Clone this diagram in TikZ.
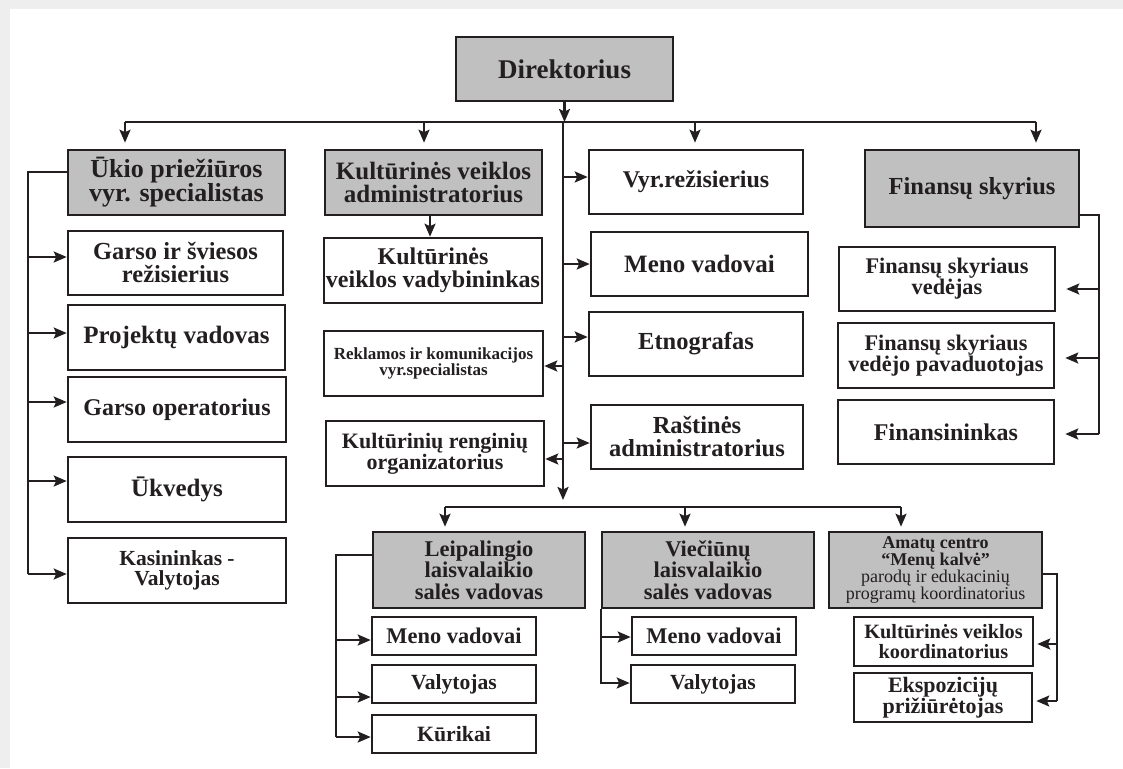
\documentclass[tikz,border=0pt]{standalone}
\usepackage{fontspec}
\setmainfont{Liberation Serif}
\usetikzlibrary{arrows.meta,calc}
\definecolor{ink}{HTML}{231F20}
\definecolor{boxgray}{HTML}{C0C0C0}
\definecolor{margin}{HTML}{EEEEEE}
\newcommand\mkbox[7]{\node[#6, minimum width={#4-#2}, minimum height={#5-#3}] (#1) at ({(#2+#4)/2},{(#3+#5)/2}) {#7};}
\begin{document}
\begin{tikzpicture}[x=1pt,y=-1pt,
  ln/.style={draw=ink,line width=2.2pt},
  arr/.style={ln,-{Stealth[length=13pt,width=11pt,inset=2.5pt]}},
  bxw/.style={draw=ink,line width=2.6pt,fill=white,inner sep=0pt,align=center,text=ink},
  bxg/.style={bxw,fill=boxgray},
  fs/.style 2 args={font=\fontsize{#1}{#2}\selectfont\bfseries}]
\useasboundingbox (0,0) rectangle (1123,768);
\fill[margin] (0,0) rectangle (1123,768);
\fill[white] (10,9) rectangle (1123,768);
% top level
\mkbox{dir}{456}{37}{673}{101}{bxg,fs={27}{27}}{Direktorius}
\mkbox{uk}{68}{150}{285}{215}{bxg,fs={26}{24}}{Ūkio priežiūros\\vyr. specialistas}
\mkbox{kadm}{325}{150}{542}{215}{bxg,fs={25}{23.5}}{Kultūrinės veiklos\\administratorius}
\mkbox{vyr}{589}{150}{803}{214}{bxw,fs={24}{24}}{Vyr.režisierius}
\mkbox{fin}{865}{150}{1079}{227}{bxg,fs={24.5}{24}}{Finansų skyrius}
% left column
\mkbox{gsr}{68}{231}{283}{295}{bxw,fs={24.5}{23}}{Garso ir šviesos\\režisierius}
\mkbox{pv}{68}{305}{285}{370}{bxw,fs={25}{25}}{Projektų vadovas}
\mkbox{go}{68}{377}{286}{442}{bxw,fs={24}{24}}{Garso operatorius}
\mkbox{ukv}{68}{457}{286}{522}{bxw,fs={25}{25}}{Ūkvedys}
\mkbox{kas}{68}{538}{286}{603}{bxw,fs={21.5}{20.5}}{Kasininkas -\\Valytojas}
% middle left
\mkbox{kvad}{324}{238}{542}{303}{bxw,fs={24}{23}}{Kultūrinės\\veiklos vadybininkas}
\mkbox{rek}{324}{331}{543}{396}{bxw,fs={17}{16.5}}{Reklamos ir komunikacijos\\vyr.specialistas}
\mkbox{kren}{326}{421}{544}{486}{bxw,fs={22}{21}}{Kultūrinių renginių\\organizatorius}
% middle right
\mkbox{meno}{591}{232}{808}{296}{bxw,fs={25}{25}}{Meno vadovai}
\mkbox{etno}{589}{312}{803}{376}{bxw,fs={24.5}{24}}{Etnografas}
\mkbox{ras}{591}{405}{803}{469}{bxw,fs={24.5}{23}}{Raštinės\\administratorius}
% right column
\mkbox{fv}{839}{247}{1055}{311}{bxw,fs={22.3}{21}}{Finansų skyriaus\\vedėjas}
\mkbox{fvp}{838}{323}{1054}{388}{bxw,fs={22.3}{21.5}}{Finansų skyriaus\\vedėjo pavaduotojas}
\mkbox{fnn}{838}{400}{1054}{464}{bxw,fs={24}{24}}{Finansininkas}
% bottom
\mkbox{leip}{373}{532}{585}{608}{bxg,fs={22.5}{21.5}}{Leipalingio\\laisvalaikio\\salės vadovas}
\mkbox{lmv}{372}{617}{536}{655}{bxw,fs={22.4}{22}}{Meno vadovai}
\mkbox{lval}{372}{665}{536}{703}{bxw,fs={21.6}{22}}{Valytojas}
\mkbox{lkur}{372}{715}{536}{753}{bxw,fs={21.8}{22}}{Kūrikai}
\mkbox{viec}{602}{532}{814}{608}{bxg,fs={22.5}{21.5}}{Viečiūnų\\laisvalaikio\\salės vadovas}
\mkbox{vmv}{632}{617}{796}{655}{bxw,fs={22.4}{22}}{Meno vadovai}
\mkbox{vval}{631}{665}{795}{703}{bxw,fs={21.6}{22}}{Valytojas}
\mkbox{amat}{829}{532}{1042}{608}{bxg,fs={18}{17.2}}{Amatų centro\\“Menų kalvė”\\{\mdseries parodų ir edukacinių}\\{\mdseries programų koordinatorius}}
\mkbox{kvk}{854}{617}{1033}{666}{bxw,fs={20.3}{19.5}}{Kultūrinės veiklos\\koordinatorius}
\mkbox{eksp}{854}{673}{1032}{722}{bxw,fs={22}{21}}{Ekspozicijų\\prižiūrėtojas}
% connectors
\coordinate (tb) at (563,122);
\coordinate (tbL) at (125,122);
\coordinate (tbR) at (1036,122);
\coordinate (bb) at (563,507);
\coordinate (bbL) at (445,507);
\coordinate (bbR) at (901,507);
\draw[arr] (dir.south) -- (dir.south |- tb);
\draw[ln] (tbL) -- (tbR);
\draw[arr,shorten >=6pt] (tbL) -- (tbL |- uk.north);
\draw[arr,shorten >=6pt] (424,122) -- (kadm.north -| 424,0);
\draw[arr,shorten >=6pt] (695,122) -- (vyr.north -| 695,0);
\draw[arr,shorten >=6pt] (tbR) -- (tbR |- fin.north);
\draw[arr,shorten >=7pt] (tb) -- (bb);
\draw[arr] (kadm.south -| 430,0) -- (kvad.north -| 430,0);
\foreach \n/\y in {vyr/177, meno/264, etno/337, ras/443}
  \draw[arr] (563,\y) -- (\n.west |- 0,\y);
\foreach \n/\y in {rek/366, kren/459}
  \draw[arr] (563,\y) -- (\n.east |- 0,\y);
% left bracket
\draw[ln] (uk.west |- 0,172) -| (28,574);
\foreach \n/\y in {gsr/257, pv/333, go/402, ukv/481, kas/574}
  \draw[arr] (28,\y) -- (\n.west |- 0,\y);
% finance bracket
\draw[ln] (fin.east |- 0,215) -| (1099,434);
\foreach \n/\y in {fv/289, fvp/358, fnn/434}
  \draw[arr,shorten >=10pt] (1099,\y) -- (\n.east |- 0,\y);
% bottom bus
\draw[ln] (bbL) -- (bbR);
\draw[arr,shorten >=4pt] (bbL) -- (bbL |- leip.north);
\draw[arr,shorten >=4pt] (685,507) -- (viec.north -| 685,0);
\draw[arr,shorten >=4pt] (bbR) -- (bbR |- amat.north);
% Leipalingio bracket
\draw[ln] (leip.west |- 0,555) -| (336,737);
\foreach \n/\y in {lmv/640, lval/697, lkur/737}
  \draw[arr] (336,\y) -- (\n.west |- 0,\y);
% Vieciunu bracket
\draw[arr] (viec.south west) |- (vval.west |- 0,683);
\draw[arr] (viec.south west |- 0,637) -- (vmv.west |- 0,637);
% Amatu bracket
\draw[ln] (amat.east |- 0,574) -| (1057,701);
\foreach \n/\y in {kvk/644, eksp/701}
  \draw[arr,shorten >=3pt] (1057,\y) -- (\n.east |- 0,\y);
\end{tikzpicture}
\end{document}
